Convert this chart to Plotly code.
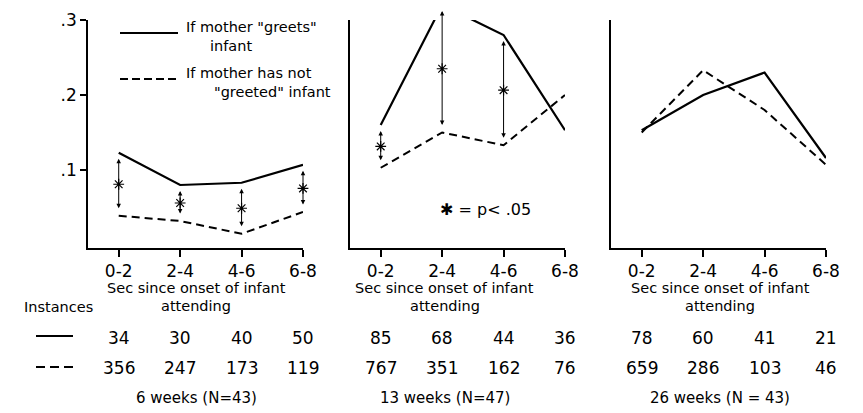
import plotly.graph_objects as go

categories = ["0-2", "2-4", "4-6", "6-8"]
panel_titles = ["6 weeks (N=43)", "13 weeks (N=47)", "26 weeks (N = 43)"]

greets_6 = [0.123, 0.080, 0.083, 0.107]
nogreet_6 = [0.039, 0.032, 0.015, 0.044]
greets_13 = [0.160, 0.320, 0.280, 0.153]
nogreet_13 = [0.103, 0.150, 0.133, 0.200]
greets_26 = [0.153, 0.200, 0.230, 0.116]
nogreet_26 = [0.150, 0.233, 0.180, 0.107]

sig_6 = [1, 1, 1, 1]
sig_13 = [1, 1, 1, 0]
sig_26 = [0, 0, 0, 0]

inst_greets_6 = [34, 30, 40, 50]
inst_nogreet_6 = [356, 247, 173, 119]
inst_greets_13 = [85, 68, 44, 36]
inst_nogreet_13 = [767, 351, 162, 76]
inst_greets_26 = [78, 60, 41, 21]
inst_nogreet_26 = [659, 286, 103, 46]

yticks = [0.1, 0.2, 0.3]
yticktext = [".1", ".2", ".3"]

W, H = 863, 413
OFF = 8  # page body margin
FONT = "DejaVu Sans"
# (data..., x-domain in px, caption centre in px)
panels = [
    (greets_6, nogreet_6, sig_6, inst_greets_6, inst_nogreet_6, (88, 303), 196),
    (greets_13, nogreet_13, sig_13, inst_greets_13, inst_nogreet_13, (350, 565), 445),
    (greets_26, nogreet_26, sig_26, inst_greets_26, inst_nogreet_26, (611, 826), 720),
]

def px(x):
    return (x - OFF) / W

def py(y):
    return 1 - (y - OFF) / H

def txt(x, y, s, size=14, xanchor="center", xref="paper"):
    return dict(x=x, y=py(y), xref=xref, yref="paper", text=s, showarrow=False,
                xanchor=xanchor, yanchor="middle",
                font=dict(family=FONT, size=size, color="black"))

fig = go.Figure()
annotations = []
shapes = []
xs = list(range(len(categories)))

for i, (g, n, sig, ig, inn, (x0, x1), cx) in enumerate(panels):
    k = "" if i == 0 else str(i + 1)
    xa, ya = "x" + k, "y" + k
    fig.add_trace(go.Scatter(x=xs, y=g, mode="lines", xaxis=xa, yaxis=ya,
                             line=dict(color="black", width=2.2), cliponaxis=False,
                             showlegend=False, hoverinfo="skip"))
    fig.add_trace(go.Scatter(x=xs, y=n, mode="lines", xaxis=xa, yaxis=ya,
                             line=dict(color="black", width=2, dash="8px,5px"), cliponaxis=False,
                             showlegend=False, hoverinfo="skip"))
    sx, sy = [], []
    for j, s in enumerate(sig):
        if not s:
            continue
        hi, lo = max(g[j], n[j]), min(g[j], n[j])
        inset = 0.008
        annotations.append(dict(x=j, y=hi - inset, ax=j, ay=lo + inset,
                                xref=xa, yref=ya, axref=xa, ayref=ya,
                                showarrow=True, arrowhead=2, arrowside="end+start",
                                arrowsize=0.9, arrowwidth=1, arrowcolor="black", text=""))
        sx.append(j)
        sy.append((hi + lo) / 2)
    if sx:
        fig.add_trace(go.Scatter(x=sx, y=sy, mode="markers", xaxis=xa, yaxis=ya,
                                 marker=dict(symbol="asterisk-open", size=9,
                                             line=dict(color="black", width=1.2), color="black"),
                                 cliponaxis=False, showlegend=False, hoverinfo="skip"))
    dom = [px(x0), px(x1)]
    fig.layout["xaxis" + k] = dict(domain=dom, range=[-0.5, 3], anchor=ya, automargin=False,
                                   tickvals=xs, ticktext=categories, ticks="outside",
                                   ticklen=7, tickwidth=1.5, tickcolor="black",
                                   showline=True, linecolor="black", linewidth=1.5,
                                   showgrid=False, zeroline=False,
                                   tickfont=dict(family=FONT, size=17, color="black"))
    yax = dict(domain=[py(248), py(20)], range=[-0.004, 0.3], anchor=xa, automargin=False,
               showline=True, linecolor="black", linewidth=1.5,
               showgrid=False, zeroline=False)
    if i == 0:
        yax.update(tickvals=yticks, ticktext=yticktext, ticks="outside", ticklen=6,
                   tickwidth=1.5, tickcolor="black",
                   tickfont=dict(family=FONT, size=17, color="black"))
    else:
        yax.update(showticklabels=False, ticks="")
    fig.layout["yaxis" + k] = yax

    annotations.append(txt(px(cx), 288, "Sec since onset of infant", size=14.5))
    annotations.append(txt(px(cx), 306, "attending", size=14.5))
    for j in xs:
        annotations.append(txt(j, 338, str(ig[j]), size=17, xref=xa))
        annotations.append(txt(j, 368, str(inn[j]), size=17, xref=xa))
    annotations.append(txt(px(cx), 398, panel_titles[i], size=15))

# legend inside panel 1
shapes.append(dict(type="line", xref="paper", yref="paper", x0=px(120), x1=px(178),
                   y0=py(33), y1=py(33), line=dict(color="black", width=2.2)))
shapes.append(dict(type="line", xref="paper", yref="paper", x0=px(120), x1=px(178),
                   y0=py(79), y1=py(79), line=dict(color="black", width=2, dash="8px,4px")))
annotations += [
    txt(px(184), 27, "If mother \"greets\"", size=14.5, xanchor="left"),
    txt(px(231), 46, "infant", size=14.5),
    txt(px(184), 73, "If mother has not", size=14.5, xanchor="left"),
    txt(px(333), 92, "\"greeted\" infant", size=14.5, xanchor="right"),
    txt(px(438), 209, "✱ = p< .05", size=16, xanchor="left"),
    txt(px(58), 307, "Instances", size=14.5),
]
# instance table line keys
shapes.append(dict(type="line", xref="paper", yref="paper", x0=px(36), x1=px(73),
                   y0=py(336), y1=py(336), line=dict(color="black", width=2.2)))
shapes.append(dict(type="line", xref="paper", yref="paper", x0=px(36), x1=px(74),
                   y0=py(367), y1=py(367), line=dict(color="black", width=2, dash="9px,5px")))

fig.update_layout(width=W, height=H, margin=dict(l=0, r=0, t=0, b=0, pad=0),
                  paper_bgcolor="white", plot_bgcolor="white", showlegend=False,
                  annotations=annotations, shapes=shapes,
                  font=dict(family=FONT, color="black"))

fig.write_html("out.html")
